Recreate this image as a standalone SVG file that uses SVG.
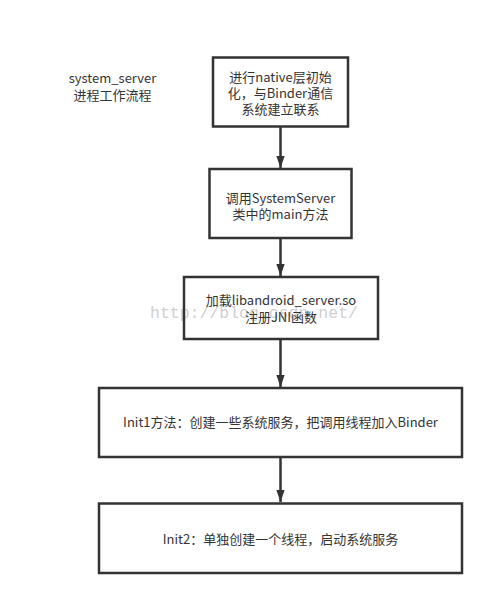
<svg xmlns="http://www.w3.org/2000/svg" width="494" height="605" viewBox="0 0 494 605">
<defs>
<style>
.box{fill:#fff;stroke:#333;stroke-width:2.5}
.t{font-family:"Noto Sans CJK SC","Noto Sans",sans-serif;font-size:13px;fill:#333;text-anchor:middle}
.edge{stroke:#333;stroke-width:2.5;fill:none}
.wm{font-family:"Liberation Mono",monospace;font-size:16.5px;fill:#d0d0d0}
</style>
<marker id="ah" markerUnits="userSpaceOnUse" markerWidth="12" markerHeight="17" refX="16" refY="5.5" orient="auto" viewBox="0 0 16 11">
<path d="M0,0 L16,5.5 L0,11 Z" fill="#333"/>
</marker>
</defs>
<rect width="494" height="605" fill="#fff"/>
<g id="title">
<text class="t" x="112.5" y="83">system_server</text>
<text class="t" x="112.5" y="100">进程工作流程</text>
</g>
<g id="connectors">
<line class="edge" x1="280.5" y1="127" x2="280.5" y2="168" marker-end="url(#ah)"/>
<line class="edge" x1="280.5" y1="238" x2="280.5" y2="276" marker-end="url(#ah)"/>
<line class="edge" x1="280.5" y1="339" x2="280.5" y2="387" marker-end="url(#ah)"/>
<line class="edge" x1="280.5" y1="457" x2="280.5" y2="502" marker-end="url(#ah)"/>
</g>
<g id="node1">
<rect class="box" x="213" y="57.5" width="135" height="69"/>
<text class="t" x="280.5" y="82">进行native层初始</text>
<text class="t" x="280.5" y="98">化，与Binder通信</text>
<text class="t" x="280.5" y="113.5">系统建立联系</text>
</g>
<g id="node2">
<rect class="box" x="209.5" y="169" width="142" height="69"/>
<text class="t" x="280.5" y="203">调用SystemServer</text>
<text class="t" x="280.5" y="218.5">类中的main方法</text>
</g>
<text class="wm" x="150" y="318">http://blog.csdn.net/</text>
<g id="node3">
<rect class="box" x="184" y="277" width="194" height="62" fill-opacity="0"/>
<text class="t" x="281" y="305">加载libandroid_server.so</text>
<text class="t" x="281" y="321.5">注册JNI函数</text>
</g>
<g id="node4">
<rect class="box" x="99" y="388" width="363" height="69"/>
<text class="t" x="280.5" y="427">Init1方法：创建一些系统服务，把调用线程加入Binder</text>
</g>
<g id="node5">
<rect class="box" x="99" y="503.5" width="363" height="69.5"/>
<text class="t" x="280.5" y="544">Init2：单独创建一个线程，启动系统服务</text>
</g>
</svg>
